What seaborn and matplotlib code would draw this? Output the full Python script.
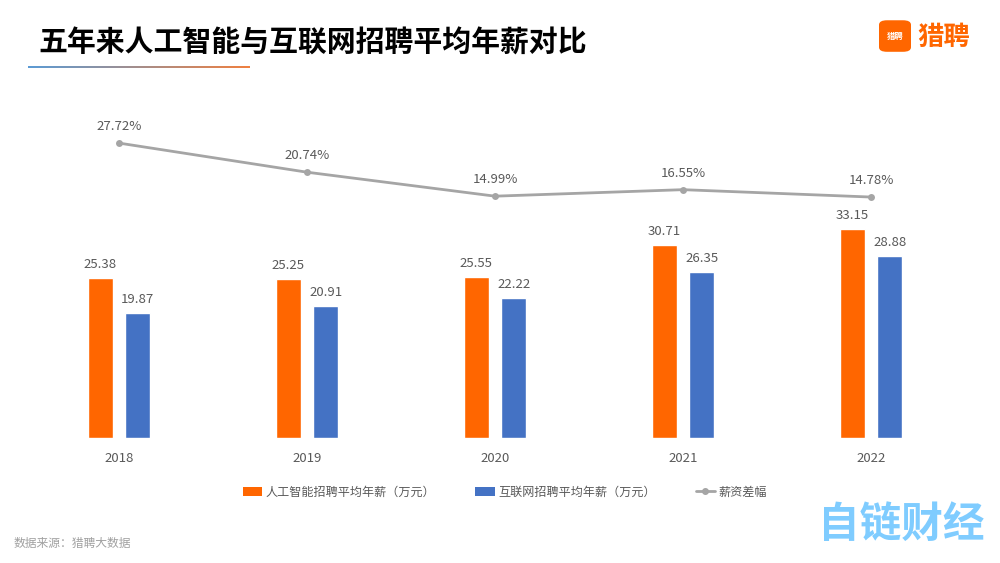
import numpy as np
import pandas as pd
import seaborn as sns
import matplotlib.pyplot as plt
from matplotlib.patches import Patch, FancyBboxPatch
from matplotlib.lines import Line2D
from matplotlib.colors import LinearSegmentedColormap

years = ['2018', '2019', '2020', '2021', '2022']
ai_salary = [25.38, 25.25, 25.55, 30.71, 33.15]
net_salary = [19.87, 20.91, 22.22, 26.35, 28.88]
gap_pct = [27.72, 20.74, 14.99, 16.55, 14.78]

ai_name = '人工智能招聘平均年薪（万元）'
net_name = '互联网招聘平均年薪（万元）'
gap_name = '薪资差幅'

ORANGE = '#FF6600'
BLUE = '#4472C4'
GREY_LINE = '#A5A5A5'
TXT = '#595959'

sns.set_theme(style='white')
plt.rcParams['font.family'] = ['Noto Sans CJK SC', 'DejaVu Sans']

df = pd.DataFrame({
    'year': years * 2,
    'salary': ai_salary + net_salary,
    'kind': [ai_name] * len(years) + [net_name] * len(years),
})

fig = plt.figure(figsize=(10, 5.63), dpi=100)
ax = fig.add_axes([0.025, 0.222, 0.94, 0.600])

sns.barplot(ax=ax, data=df, x='year', y='salary', hue='kind',
            palette=[ORANGE, BLUE], saturation=1, width=0.4, gap=0.335, legend=False)
ax.set_xlim(-0.5, len(years) - 0.5)
ax.set_ylim(0, 53.65)
for cont in ax.containers:
    ax.bar_label(cont, fmt='%.2f', padding=5, fontsize=9.5, color=TXT)
ax.set_xlabel('')
ax.set_ylabel('')
ax.set_yticks([])
ax.tick_params(axis='x', length=0, pad=10, labelsize=9.5, labelcolor=TXT)
for s in ax.spines.values():
    s.set_visible(False)

ax2 = ax.twinx()
xpos = np.arange(len(years))
sns.lineplot(ax=ax2, x=xpos, y=gap_pct, color=GREY_LINE, linewidth=2,
             marker='o', markersize=5, markeredgewidth=0)
for x, v in zip(xpos, gap_pct):
    ax2.annotate(f'{v:.2f}%', (x, v), xytext=(0, 7), textcoords='offset points',
                 ha='center', va='bottom', fontsize=9.5, color=TXT)
ax2.set_ylim(-43.0, 38.0)
ax2.set_yticks([])
for s in ax2.spines.values():
    s.set_visible(False)

# title + gradient underline
fig.text(0.038, 0.925, '五年来人工智能与互联网招聘平均年薪对比', fontsize=20.8,
         fontweight='bold', color='black', va='center', ha='left')
grad_ax = fig.add_axes([0.028, 0.879, 0.222, 0.004])
grad = np.linspace(0, 1, 256).reshape(1, -1)
cmap = LinearSegmentedColormap.from_list('ul', ['#5B9BD5', '#F08040'])
grad_ax.imshow(grad, aspect='auto', cmap=cmap)
grad_ax.axis('off')

# logo
logo = FancyBboxPatch((0.881, 0.910), 0.028, 0.052, boxstyle='round,pad=0.002,rounding_size=0.008',
                      transform=fig.transFigure, facecolor=ORANGE, edgecolor='none')
fig.patches.append(logo)
fig.text(0.895, 0.936, '猎聘', fontsize=6, color='white', ha='center', va='center', fontweight='bold')
fig.text(0.917, 0.934, '猎聘', fontsize=19, color=ORANGE, ha='left', va='center', fontweight='bold')

# legend
handles = [Patch(facecolor=ORANGE, edgecolor='none'),
           Patch(facecolor=BLUE, edgecolor='none'),
           Line2D([0], [0], color=GREY_LINE, linewidth=2, marker='o', markersize=4)]
fig.legend(handles, [ai_name, net_name, gap_name], loc='center', bbox_to_anchor=(0.505, 0.126),
           ncol=3, frameon=False, fontsize=8.7, labelcolor=TXT, handlelength=1.6,
           handletextpad=0.3, columnspacing=3.3, handleheight=0.8)

fig.text(0.014, 0.035, '数据来源：猎聘大数据', fontsize=8.5, color='#A0A0A0', ha='left', va='center')
fig.text(0.985, 0.067, '自链财经', fontsize=30, color='#7FCCFF', ha='right', va='center', fontweight='bold')

fig.savefig('out.png', dpi=100)
